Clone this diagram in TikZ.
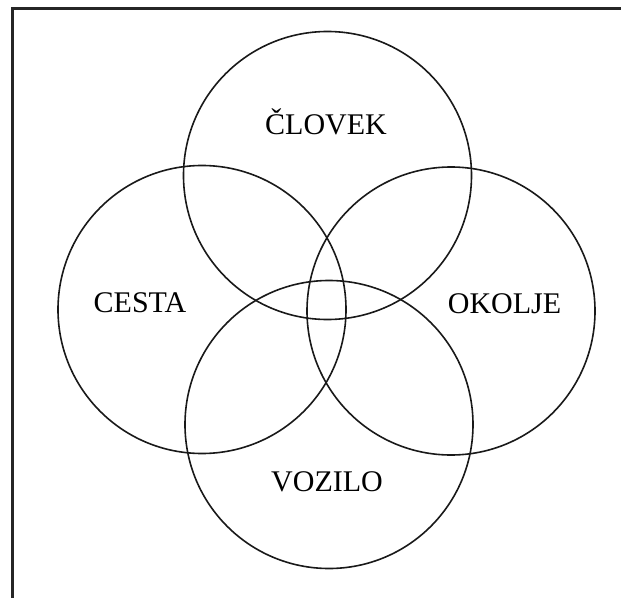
\documentclass[tikz,border=0pt]{standalone}
\usepackage{fontspec}
\setmainfont{Liberation Serif}
\begin{document}
\begin{tikzpicture}[x=1pt,y=-1pt,
  ring/.style={draw=black!90, line width=1.6pt},
  lbl/.style={anchor=base, inner sep=0pt, font=\fontsize{30}{36}\selectfont},
  frameline/.style={draw=black!85, line width=2.2pt}]
\useasboundingbox (0,0) rectangle (621,597);
\coordinate (ctop) at (327.5,175.5);
\coordinate (cleft) at (202,309.5);
\coordinate (cright) at (451,311);
\coordinate (cbot) at (329,424.5);
\coordinate (fbl) at (12.5,600);
\coordinate (ftl) at (12.5,8.5);
\coordinate (ftr) at (630,8.5);
\draw[frameline] (fbl) -- (ftl) -- (ftr);
\draw[ring] (ctop) circle (144pt);
\draw[ring] (cleft) circle (144pt);
\draw[ring] (cright) circle (144pt);
\draw[ring] (cbot) circle (144pt);
\node[lbl] (clovek) at (326,134) {ČLOVEK};
\node[lbl] (cesta) at (140,312) {CESTA};
\node[lbl] (okolje) at (504.5,313) {OKOLJE};
\node[lbl] (vozilo) at (327,491) {VOZILO};
\end{tikzpicture}
\end{document}
